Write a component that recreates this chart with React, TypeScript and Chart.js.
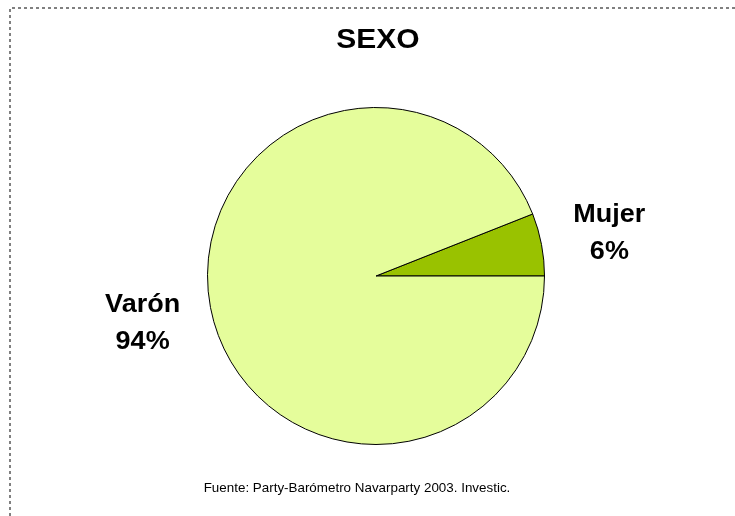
import React, { useEffect, useRef } from "react";
import { Chart, registerables } from "chart.js";

Chart.register(...registerables);

const categories = ["Mujer", "Varón"];
const values = [6, 94];
const percentLabels = ["6%", "94%"];
const sliceColors = ["#99C200", "#E5FD9B"];
const titleText = "SEXO";
const sourceText = "Fuente: Party-Barómetro Navarparty 2003. Investic.";

const FONT = "'Liberation Sans', Arial, Helvetica, sans-serif";

function wideText(ctx: CanvasRenderingContext2D, text: string, x: number, y: number, sx: number) {
  ctx.save();
  ctx.translate(x, y);
  ctx.scale(sx, 1);
  ctx.fillText(text, 0, 0);
  ctx.restore();
}

const textPlugin = {
  id: "customTexts",
  afterDraw(chart: any) {
    const ctx = chart.ctx as CanvasRenderingContext2D;
    const W = chart.width;
    const H = chart.height;
    ctx.save();
    // dotted frame (top and left edges)
    ctx.strokeStyle = "#808080";
    ctx.lineWidth = 2;
    ctx.setLineDash([3, 3]);
    ctx.beginPath();
    ctx.moveTo(10, H);
    ctx.lineTo(10, 8);
    ctx.lineTo(W, 8);
    ctx.stroke();
    ctx.setLineDash([]);

    ctx.fillStyle = "#000";
    ctx.textAlign = "center";
    ctx.textBaseline = "alphabetic";
    // title
    ctx.font = `bold 28px ${FONT}`;
    wideText(ctx, titleText, 378, 48, 1.07);
    // source
    ctx.font = `13px ${FONT}`;
    wideText(ctx, sourceText, 357, 492, 1.03);

    // slice labels
    ctx.font = `bold 25px ${FONT}`;
    const meta = chart.getDatasetMeta(0);
    meta.data.forEach((arc: any, i: number) => {
      const p = arc.getProps(["x", "y", "startAngle", "endAngle", "outerRadius"], true);
      const mid = (p.startAngle + p.endAngle) / 2;
      const r = p.outerRadius * 1.41;
      const lx = p.x + Math.cos(mid) * r;
      const ly = p.y + Math.sin(mid) * r;
      wideText(ctx, categories[i], lx, ly - 9, 1.08);
      wideText(ctx, percentLabels[i], lx, ly + 28, 1.08);
    });
    ctx.restore();
  },
};

export default function App() {
  const canvasRef = useRef<HTMLCanvasElement | null>(null);

  useEffect(() => {
    if (!canvasRef.current) return;
    const chart = new Chart(canvasRef.current, {
      type: "pie",
      data: {
        labels: categories,
        datasets: [
          {
            data: values,
            backgroundColor: sliceColors,
            borderColor: "#000000",
            borderWidth: 1,
          },
        ],
      },
      options: {
        responsive: false,
        maintainAspectRatio: false,
        animation: false,
        rotation: 90 - (values[0] / 100) * 360,
        layout: { padding: { left: 207, right: 190, top: 107, bottom: 71 } },
        plugins: {
          legend: { display: false },
          title: { display: false },
          tooltip: { enabled: false },
        },
      },
      plugins: [textPlugin],
    });
    return () => chart.destroy();
  }, []);

  return (
    <div style={{ position: "absolute", left: 0, top: 0, width: 735, height: 516, background: "#fff" }}>
      <canvas ref={canvasRef} width={735} height={516} style={{ display: "block", width: 735, height: 516 }} />
    </div>
  );
}
